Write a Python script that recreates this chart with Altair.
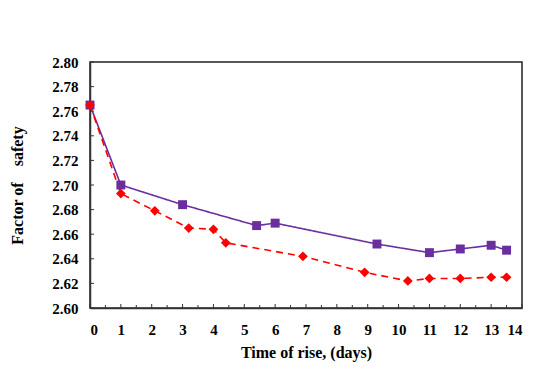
import altair as alt
import pandas as pd

series_names = ["Original Layers", "Gypseous Layers"]
series_colors = ["#6A2E9E", "#FF0000"]

orig_days = [0, 1, 3, 5.4, 6, 9.3, 11, 12, 13, 13.5]
orig_fos = [2.765, 2.700, 2.684, 2.667, 2.669, 2.652, 2.645, 2.648, 2.651, 2.647]

gyp_days = [0, 1, 2.1, 3.2, 4, 4.4, 6.9, 8.9, 10.3, 11, 12, 13, 13.5]
gyp_fos = [2.765, 2.693, 2.679, 2.665, 2.664, 2.653, 2.642, 2.629, 2.622, 2.624, 2.624, 2.625, 2.625]

x_tick_values = [0, 1, 2, 3, 4, 5, 6, 7, 8, 9, 10, 11, 12, 13, 14]
x_minor_values = [0.5, 1.5, 2.5, 3.5, 4.5, 5.5, 6.5, 7.5, 8.5, 9.5, 10.5, 11.5, 12.5, 13.5]
y_tick_values = [2.60, 2.62, 2.64, 2.66, 2.68, 2.70, 2.72, 2.74, 2.76, 2.78, 2.80]

df = pd.concat([
    pd.DataFrame({"days": orig_days, "fos": orig_fos, "series": series_names[0]}),
    pd.DataFrame({"days": gyp_days, "fos": gyp_fos, "series": series_names[1]}),
], ignore_index=True)

FONT = "Liberation Serif"
W, H = 432, 246

xscale = alt.Scale(domain=[0, 14], nice=False)
yscale = alt.Scale(domain=[2.60, 2.80], nice=False)
cscale = alt.Scale(domain=series_names, range=series_colors)

xaxis = alt.Axis(values=x_tick_values, ticks=False, labelPadding=14, grid=False,
                 title="Time of rise, (days)", titleFont=FONT, titleFontSize=16,
                 titleFontWeight="bold", titlePadding=7, labelFont=FONT, labelFontSize=15,
                 labelFontWeight="bold",
                 labelColor="black", titleColor="black", domainColor="#333333", domainWidth=1.5)
yaxis = alt.Axis(values=y_tick_values, format=".2f", ticks=False, labelPadding=12, grid=False,
                 title="Factor of\u00a0\u00a0\u00a0 safety", titleFont=FONT, titleFontSize=16,
                 titleFontWeight="bold", titleX=-65, labelFont=FONT, labelFontSize=15,
                 labelFontWeight="bold",
                 labelColor="black", titleColor="black", domainColor="#333333", domainWidth=1.5)

base = alt.Chart(df).encode(
    x=alt.X("days:Q", scale=xscale, axis=xaxis),
    y=alt.Y("fos:Q", scale=yscale, axis=yaxis),
    color=alt.Color("series:N", scale=cscale, legend=None),
)

lines = base.mark_line(strokeWidth=1.6).encode(
    strokeDash=alt.StrokeDash("series:N",
                              scale=alt.Scale(domain=series_names, range=[[1, 0], [7, 5]]),
                              legend=None)
)

orig_pts = base.transform_filter(alt.datum.series == series_names[0]).mark_point(
    shape="square", filled=True, size=80, opacity=1)
gyp_pts = base.transform_filter(alt.datum.series == series_names[1]).mark_point(
    shape="diamond", filled=True, size=95, opacity=1)

orig_sym = "M-1,0H1M-0.2,-0.2H0.2V0.2H-0.2Z"
gyp_sym = "M-1,0H-0.75M0.75,0H1M0,-0.25L0.25,0L0,0.25L-0.25,0Z"

leg = alt.Legend(orient="none", legendX=17, legendY=-39, direction="horizontal", title=None,
                 strokeColor="black", fillColor="white", padding=4, symbolSize=1600,
                 symbolStrokeWidth=1.5, labelFont=FONT, labelFontSize=16, labelFontWeight="bold",
                 labelColor="black", columnPadding=5, symbolOffset=22, labelOffset=3,
                 labelExpr="datum.label == 'Gypseous Layers' ? datum.label + '\u00a0\u00a0\u00a0\u00a0\u00a0\u00a0' : datum.label")

# legend carrier: same points, shifted out of the plotted range and clipped away
legend_layer = alt.Chart(df).transform_calculate(off="datum.fos - 1").mark_point(
    filled=True, opacity=1, clip=True).encode(
    x=alt.X("days:Q", scale=xscale, axis=xaxis),
    y=alt.Y("off:Q", scale=yscale, axis=yaxis),
    fill=alt.Fill("series:N", scale=cscale, legend=leg),
    stroke=alt.Stroke("series:N", scale=cscale, legend=leg),
    shape=alt.Shape("series:N", scale=alt.Scale(domain=series_names, range=[orig_sym, gyp_sym]), legend=leg),
)

xt = alt.Chart(pd.DataFrame({"t": x_tick_values})).mark_rule(color="#333333", strokeWidth=1).encode(
    x=alt.X("t:Q", scale=xscale, axis=xaxis), y=alt.value(H), y2=alt.value(H - 4))
xm = alt.Chart(pd.DataFrame({"t": x_minor_values})).mark_rule(color="#333333", strokeWidth=1).encode(
    x=alt.X("t:Q", scale=xscale, axis=xaxis), y=alt.value(H), y2=alt.value(H - 3))
yt = alt.Chart(pd.DataFrame({"t": y_tick_values})).mark_rule(color="#333333", strokeWidth=1).encode(
    y=alt.Y("t:Q", scale=yscale, axis=yaxis), x=alt.value(0), x2=alt.value(4))

chart = alt.layer(xt, xm, yt, lines, orig_pts, gyp_pts, legend_layer).properties(
    width=W, height=H,
    autosize=alt.AutoSizeParams(type="none"),
    padding={"left": 90, "top": 62, "right": 12, "bottom": 62},
    background="white",
).configure_view(stroke="#222222", strokeWidth=1.5)

chart.save("out.html", embed_options={"renderer": "svg", "actions": False})
